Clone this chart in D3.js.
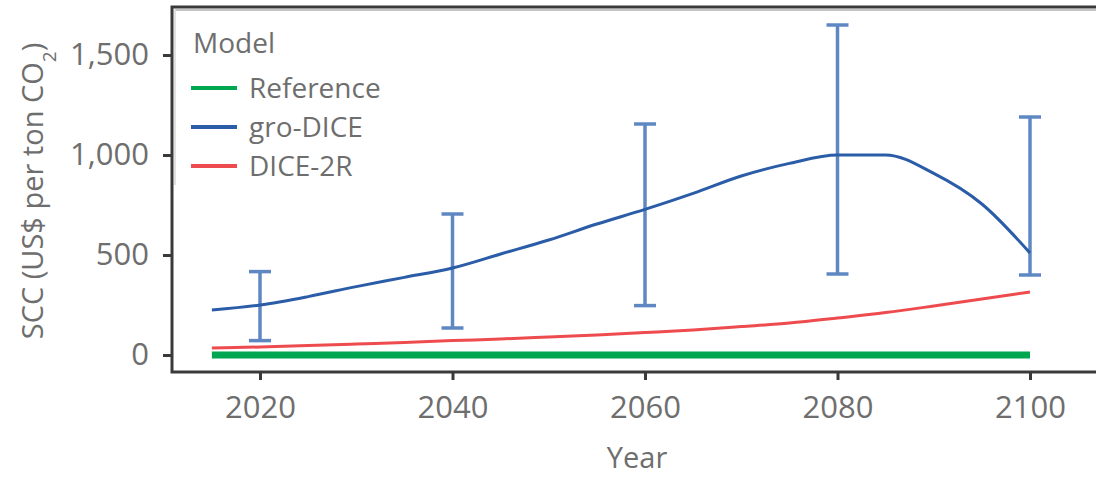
<!DOCTYPE html>
<html>
<head>
<meta charset="utf-8">
<script src="https://cdn.jsdelivr.net/npm/d3@7"></script>
<style>
  html, body { margin: 0; padding: 0; background: #fff; }
  svg { display: block; font-family: "Open Sans", sans-serif; }
</style>
</head>
<body>
<svg id="chart" width="1096" height="478"></svg>
<script>
// Social cost of carbon by model, 2015-2100
const years = [2015, 2020, 2025, 2030, 2035, 2040, 2045, 2050, 2055, 2060,
               2065, 2070, 2075, 2080, 2085, 2090, 2095, 2100];
const referenceValues = years.map(() => 0);
const groDiceValues = [225, 250, 292, 342, 388, 435, 505, 575, 655, 728,
                       808, 895, 958, 1000, 1000, 908, 755, 510];
const dice2rValues = [35, 40, 47, 55, 63, 72, 80, 90, 100, 112,
                      125, 142, 160, 185, 212, 245, 280, 315];

// Uncertainty ranges shown for gro-DICE
const errorYears = [2020, 2040, 2060, 2080, 2100];
const errorLow  = [72, 135, 247, 405, 400];
const errorHigh = [417, 705, 1155, 1650, 1190];

const xTicks = [2020, 2040, 2060, 2080, 2100];
const yTicks = [0, 500, 1000, 1500];

const legendNames = ["Reference", "gro-DICE", "DICE-2R"];
const legendColors = ["#00a650", "#2a5ca8", "#ee4b4f"];

const svg = d3.select("#chart");
const frame = { left: 172, top: 7, right: 1110, bottom: 372 };

const x = d3.scaleLinear().domain([2020, 2100]).range([260, 1030]);
const y = d3.scaleLinear().domain([0, 1500]).range([355, 55]);

const textColor = "#6e6e6e";

// Plot frame
svg.append("path")
  .attr("d", `M${frame.right},${frame.top}H${frame.left}V${frame.bottom}H${frame.right}`)
  .attr("fill", "none")
  .attr("stroke", "#3a3a3a")
  .attr("stroke-width", 3);
svg.append("line")
  .attr("x1", frame.left + 3).attr("x2", frame.right)
  .attr("y1", frame.top + 3).attr("y2", frame.top + 3)
  .attr("stroke", "#c4c4c4").attr("stroke-width", 2);
svg.append("line")
  .attr("x1", frame.left + 3).attr("x2", frame.left + 3)
  .attr("y1", frame.top + 3).attr("y2", 185)
  .attr("stroke", "#e2e2e2").attr("stroke-width", 2);

// Axes
const xAxis = d3.axisBottom(x).tickValues(xTicks).tickFormat(d3.format("d"))
  .tickSize(8).tickPadding(16);
const gx = svg.append("g").attr("transform", `translate(0,${frame.bottom})`).call(xAxis);
gx.select(".domain").remove();

const yAxis = d3.axisLeft(y).tickValues(yTicks).tickFormat(d3.format(","))
  .tickSize(9).tickPadding(14);
const gy = svg.append("g").attr("transform", `translate(${frame.left},0)`).call(yAxis);
gy.select(".domain").remove();

[gx, gy].forEach(g => {
  g.selectAll(".tick line").attr("stroke", "#3a3a3a").attr("stroke-width", 3);
  g.selectAll(".tick text")
    .attr("fill", textColor)
    .style("font-size", "31px")
    .style("font-family", "'Open Sans', sans-serif");
});
gx.selectAll(".tick text").attr("dy", "0.71em");

// Axis titles
svg.append("text")
  .attr("x", 637).attr("y", 468)
  .attr("text-anchor", "middle")
  .attr("fill", textColor)
  .style("font-size", "29px")
  .text("Year");

const yTitle = svg.append("text")
  .attr("transform", "translate(43,191) rotate(-90)")
  .attr("text-anchor", "middle")
  .attr("fill", textColor)
  .style("font-size", "29px");
yTitle.append("tspan").text("SCC (US$ per ton CO");
yTitle.append("tspan").attr("baseline-shift", "sub").style("font-size", "19px").text("2");
yTitle.append("tspan").text(")");

// Series lines
const line = d3.line()
  .x((d, i) => x(years[i]))
  .y(d => y(d))
  .curve(d3.curveMonotoneX);

svg.append("path")
  .datum(referenceValues)
  .attr("d", line)
  .attr("fill", "none")
  .attr("stroke", legendColors[0])
  .attr("stroke-width", 7);

svg.append("path")
  .datum(dice2rValues)
  .attr("d", line)
  .attr("fill", "none")
  .attr("stroke", legendColors[2])
  .attr("stroke-width", 3);

// Error bars
const eb = svg.append("g")
  .attr("stroke", "#5f88c2")
  .attr("stroke-width", 3.5);
errorYears.forEach((yr, i) => {
  const cx = x(yr);
  eb.append("line").attr("x1", cx).attr("x2", cx)
    .attr("y1", y(errorLow[i])).attr("y2", y(errorHigh[i]));
  eb.append("line").attr("x1", cx - 11).attr("x2", cx + 11)
    .attr("y1", y(errorLow[i])).attr("y2", y(errorLow[i]));
  eb.append("line").attr("x1", cx - 11).attr("x2", cx + 11)
    .attr("y1", y(errorHigh[i])).attr("y2", y(errorHigh[i]));
});

svg.append("path")
  .datum(groDiceValues)
  .attr("d", line)
  .attr("fill", "none")
  .attr("stroke", legendColors[1])
  .attr("stroke-width", 3);

// Legend
const legend = svg.append("g");
legend.append("text")
  .attr("x", 193).attr("y", 53)
  .attr("fill", textColor)
  .style("font-size", "28px")
  .text("Model");
legendNames.forEach((name, i) => {
  const ly = 88 + i * 39;
  legend.append("line")
    .attr("x1", 191).attr("x2", 237)
    .attr("y1", ly).attr("y2", ly)
    .attr("stroke", legendColors[i])
    .attr("stroke-width", 4);
  legend.append("text")
    .attr("x", 249).attr("y", ly)
    .attr("dy", "0.35em")
    .attr("fill", textColor)
    .style("font-size", "28px")
    .text(name);
});
</script>
</body>
</html>
